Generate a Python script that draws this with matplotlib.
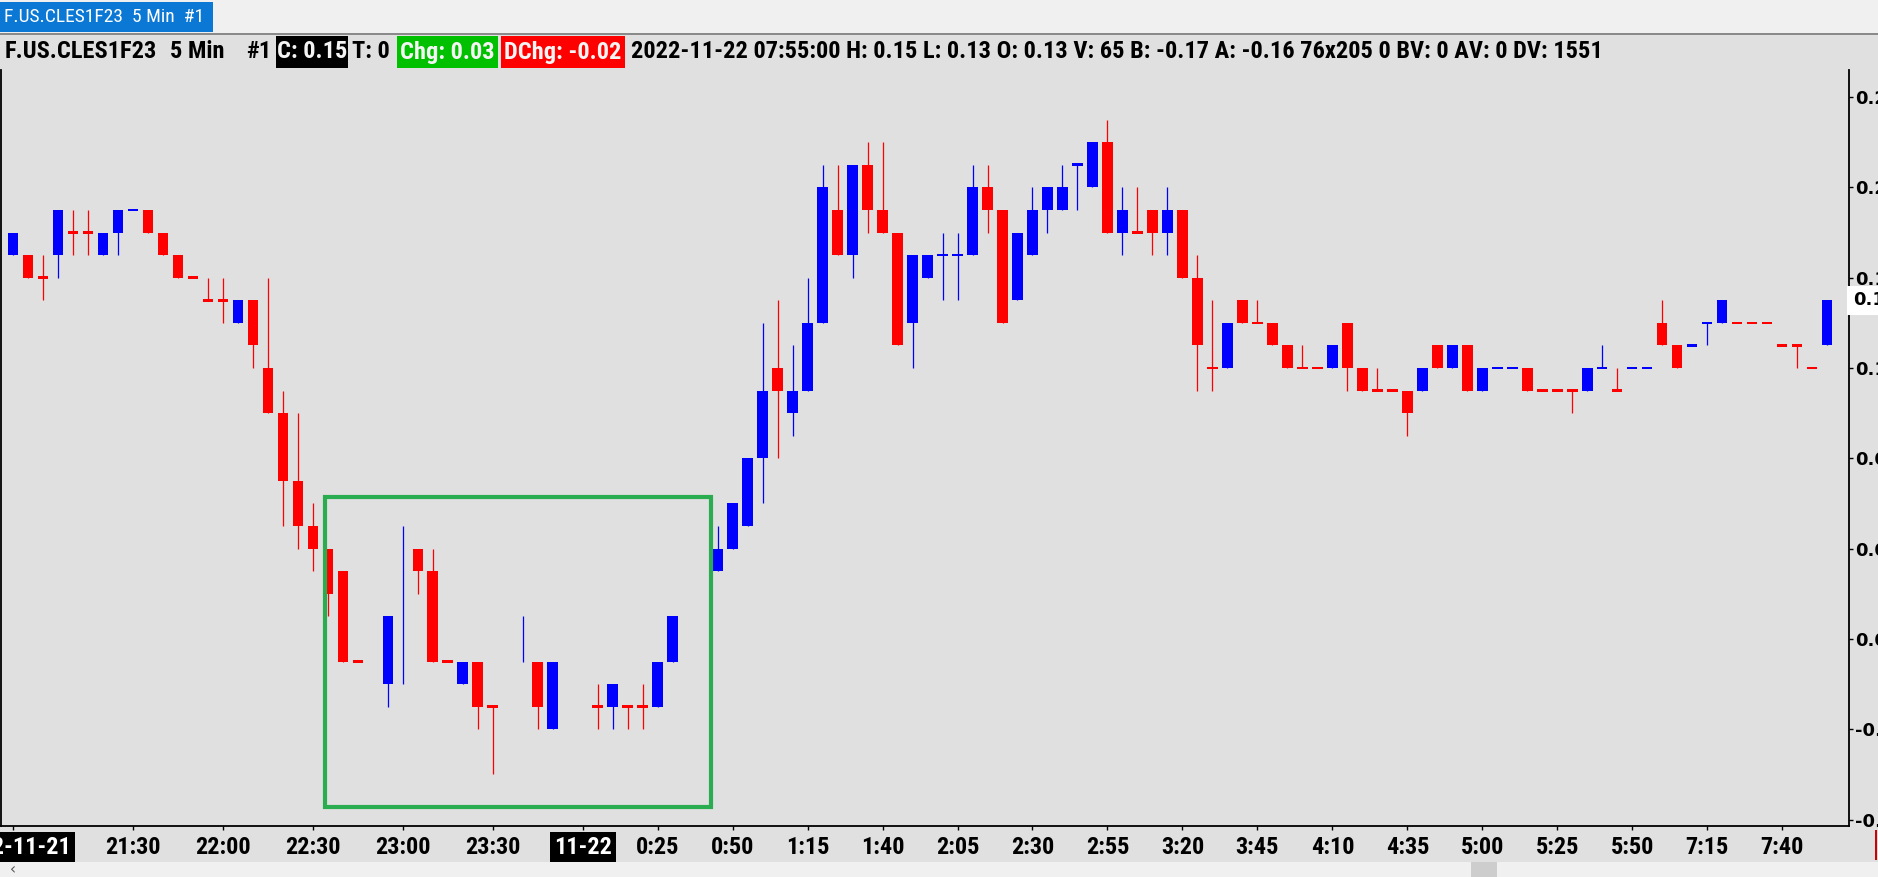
import matplotlib
matplotlib.use('Agg')
import matplotlib.pyplot as plt
from matplotlib import font_manager
from matplotlib.patches import Rectangle
from matplotlib.transforms import blended_transform_factory

W, H = 1878, 877

# 5 min bars of F.US.CLES1F23, prices in cents, None = empty slot
opens = [17, 17, 16, 17, 18, 18, 17, 18, 19, 19,
         18, 17, 16, 15, 15, 14, 15, 12, 10, 7,
         5, 4, 3, -1, None, -2, None, 4, 3, -1,
         -2, -1, -3, None, None, -1, -4, None, None, -3,
         -3, -3, -3, -3, -1, None, None, 3, 4, 5,
         8, 12, 10, 11, 14, 19, 17, 21, 19, 18,
         14, 16, 17, 17, 17, 20, 19, 15, 17, 19,
         19, 21, 20, 22, 18, 18, 19, 18, 19, 16,
         12, 12, 15, 14, 14, 13, 12, 12, 12, 14,
         12, 11, 11, 11, 11, 13, 12, 13, 11, 12,
         12, 12, 11, 11, 11, 11, 12, 11, 12, 12,
         14, 13, 13, 14, 14, 14, 14, 14, 13, 13,
         12, 13]
highs = [18, 17, 17, 19, 19, 19, 18, 19, 19, 19,
         18, 17, 16, 16, 16, 15, 15, 16, 11, 10,
         6, 4, 3, -1, None, 1, 5, 4, 4, -1,
         -1, -1, -3, None, 1, -1, -1, None, None, -2,
         -2, -3, -2, -1, 1, None, None, 5, 6, 8,
         14, 15, 13, 16, 21, 21, 21, 22, 22, 18,
         17, 17, 18, 18, 21, 21, 19, 18, 20, 20,
         21, 21, 22, 23, 20, 20, 19, 20, 19, 17,
         15, 14, 15, 15, 14, 13, 13, 12, 13, 14,
         12, 12, 11, 11, 12, 13, 13, 13, 12, 12,
         12, 12, 11, 11, 11, 12, 13, 12, 12, 12,
         15, 13, 13, 14, 15, 14, 14, 14, 13, 13,
         12, 15]
lows = [17, 16, 15, 16, 17, 17, 17, 17, 19, 18,
        17, 16, 16, 15, 14, 14, 12, 10, 5, 4,
        3, 1, -1, -1, None, -3, -2, 2, -1, -1,
        -2, -4, -6, None, -1, -4, -4, None, None, -4,
        -4, -4, -4, -3, -1, None, None, 3, 4, 5,
        6, 8, 9, 11, 14, 17, 16, 18, 18, 13,
        12, 16, 15, 15, 17, 18, 14, 15, 17, 18,
        19, 19, 20, 18, 17, 18, 17, 17, 16, 11,
        11, 12, 14, 14, 13, 12, 12, 12, 12, 11,
        11, 11, 11, 9, 11, 12, 12, 11, 11, 12,
        12, 11, 11, 11, 10, 11, 12, 11, 12, 12,
        13, 12, 13, 13, 14, 14, 14, 14, 13, 12,
        12, 13]
closes = [18, 16, 16, 19, 18, 18, 18, 19, 19, 18,
          17, 16, 16, 15, 15, 15, 13, 10, 7, 5,
          4, 2, -1, -1, None, 1, None, 3, -1, -1,
          -1, -3, -3, None, None, -3, -1, None, None, -3,
          -2, -3, -3, -1, 1, None, None, 4, 6, 8,
          11, 11, 11, 14, 20, 17, 21, 19, 18, 13,
          17, 17, 17, 17, 20, 19, 14, 18, 19, 20,
          20, 21, 22, 18, 19, 18, 18, 19, 16, 13,
          12, 14, 14, 14, 13, 12, 12, 12, 13, 12,
          11, 11, 11, 10, 12, 12, 13, 11, 12, 12,
          12, 11, 11, 11, 11, 12, 12, 11, 12, 12,
          13, 12, 13, 14, 15, 14, 14, 14, 13, 13,
          12, 15]
# b = up bar (blue), r = down bar (red), . = empty
bar_dir = list("brrbrrbbbr" "rrrrrbrrrr" "rrrr.bbrrr" "brr.brb..r"
               "brrbb..bbb" "brbbbrbrrr" "bbbbbrrbbb" "bbbrbrrbrr"
               "rbrrrrrrbr" "rrrrbrbrbb" "brrrrbbrbb" "rrbbbrrrrr" "rb")

tick_pos = [0, 8, 14, 20, 26, 32, 38, 43, 48, 53, 58, 63, 68, 73, 78,
            83, 88, 93, 98, 103, 108, 113, 118]
tick_lbl = ['2022-11-21', '21:30', '22:00', '22:30', '23:00', '23:30', '11-22',
            '0:25', '0:50', '1:15', '1:40', '2:05', '2:30', '2:55', '3:20',
            '3:45', '4:10', '4:35', '5:00', '5:25', '5:50', '7:15', '7:40']
price_ticks = [-0.08, -0.04, 0.00, 0.04, 0.08, 0.12, 0.16, 0.20, 0.24]
last_price = 0.15

names = {f.name for f in font_manager.fontManager.ttflist}
narrow = 'DejaVu Sans'
for cand in ['Liberation Sans Narrow', 'Roboto Condensed', 'Open Sans Condensed']:
    if cand in names:
        narrow = cand
        break

BLUE = '#0000ff'
RED = '#ff0000'
BG = '#e0e0e0'


def fx(px):
    return px / W


def fy(py):
    return 1 - py / H


fig = plt.figure(figsize=(W / 100, H / 100), dpi=100, facecolor=BG)

# window strip + tab
fig.patches.append(Rectangle((0, fy(34)), 1, 34 / H, transform=fig.transFigure,
                             facecolor='#f0f0f0', edgecolor='none', zorder=0))
fig.patches.append(Rectangle((0, fy(32)), fx(213), 30 / H, transform=fig.transFigure,
                             facecolor='#0a78d4', edgecolor='none', zorder=1))
fig.text(fx(4), fy(17), 'F.US.CLES1F23  5 Min  #1', color='white', fontsize=14,
         family=narrow, va='center', ha='left')
fig.patches.append(Rectangle((0, fy(35)), 1, 2 / H, transform=fig.transFigure,
                             facecolor='#8a8a8a', edgecolor='none', zorder=1))

# header line
hy = fy(52)
hfs = 17.6
fig.text(fx(5), hy, 'F.US.CLES1F23', fontsize=hfs, weight='bold', family=narrow, va='center')
fig.text(fx(170), hy, '5 Min', fontsize=hfs, weight='bold', family=narrow, va='center')
fig.text(fx(246), hy, '#1', fontsize=hfs, weight='bold', family=narrow, va='center')
for x0, x1, fc, txt in [(276, 348, 'black', 'C: 0.15'),
                        (397, 498, '#00c000', 'Chg: 0.03'),
                        (501, 625, '#ff0000', 'DChg: -0.02')]:
    fig.patches.append(Rectangle((fx(x0), fy(68)), fx(x1 - x0), 32 / H,
                                 transform=fig.transFigure, facecolor=fc,
                                 edgecolor='none', zorder=1))
    fig.text(fx((x0 + x1) / 2), hy, txt, fontsize=hfs, weight='bold', family=narrow,
             color='#f4f4f4', va='center', ha='center', zorder=3)
fig.text(fx(352), hy, 'T: 0', fontsize=hfs, weight='bold', family=narrow, va='center')
fig.text(fx(631), hy, '2022-11-22 07:55:00 H: 0.15 L: 0.13 O: 0.13 V: 65 B: -0.17 '
         'A: -0.16 76x205 0 BV: 0 AV: 0 DV: 1551', fontsize=hfs, weight='bold',
         family=narrow, va='center')

# scrollbar strip
fig.patches.append(Rectangle((0, 0), 1, 15 / H, transform=fig.transFigure,
                             facecolor='#f0f0f0', edgecolor='none', zorder=0))
fig.patches.append(Rectangle((fx(1471), 0), fx(26), 15 / H, transform=fig.transFigure,
                             facecolor='#cdcdcd', edgecolor='none', zorder=1))
fig.text(fx(10), fy(870), '‹', fontsize=11, color='#555555', va='center')
fig.patches.append(Rectangle((fx(1875), fy(860)), fx(2), 30 / H, transform=fig.transFigure,
                             facecolor='#d00000', edgecolor='none', zorder=1))

# chart area
ax = fig.add_axes([fx(0.5), fy(826), fx(1849 - 0.5), (826 - 70) / H])
ax.set_facecolor(BG)

body_w = 0.69
dash_h = 0.0012
for i in range(len(opens)):
    if highs[i] is None:
        continue
    col = BLUE if bar_dir[i] == 'b' else RED
    ax.vlines(i, lows[i] / 100, highs[i] / 100, color=col, linewidth=0.9, zorder=2)
    if opens[i] is None:
        continue
    lo = min(opens[i], closes[i]) / 100
    hgt = abs(closes[i] - opens[i]) / 100
    if hgt == 0:
        lo -= dash_h / 2
        hgt = dash_h
    ax.bar(i, hgt, bottom=lo, width=body_w, color=col, linewidth=0, zorder=3)

# highlighted region
ax.add_patch(Rectangle((20.8, -0.0745), 46.55 - 20.8, 0.0630 + 0.0745, fill=False,
                       edgecolor='#2aad50', linewidth=3.0, zorder=4))

ax.set_xlim(-0.82, 122.45)
ax.set_ylim(-0.08283, 0.25199)

ax.spines['top'].set_visible(False)
for s in ['left', 'right', 'bottom']:
    ax.spines[s].set_color('black')
    ax.spines[s].set_linewidth(1.3)

ax.yaxis.tick_right()
ax.set_yticks(price_ticks)
ax.set_yticklabels(['%.2f' % v for v in price_ticks])
ax.tick_params(axis='y', direction='out', length=3, width=1, pad=1.5,
               labelsize=13)
for t in ax.get_yticklabels():
    t.set_fontweight('bold')

ax.set_xticks(tick_pos)
ax.set_xticklabels(tick_lbl)
ax.tick_params(axis='x', direction='out', length=3, width=1, pad=4.5, labelsize=17.5)
for k, t in enumerate(ax.get_xticklabels()):
    t.set_fontweight('bold')
    t.set_family(narrow)
    if tick_lbl[k] in ('2022-11-21', '11-22'):
        t.set_color('white')
        t.set_bbox(dict(facecolor='black', edgecolor='none', pad=3))

tr = blended_transform_factory(ax.transAxes, ax.transData)
ax.text(1.0 + 4 / 1849, last_price, '%.2f' % last_price, transform=tr, fontsize=13,
        weight='bold', va='center', ha='left', zorder=6, clip_on=False,
        bbox=dict(facecolor='white', edgecolor='none', pad=4))

fig.savefig('out.png', dpi=100, facecolor=BG)
